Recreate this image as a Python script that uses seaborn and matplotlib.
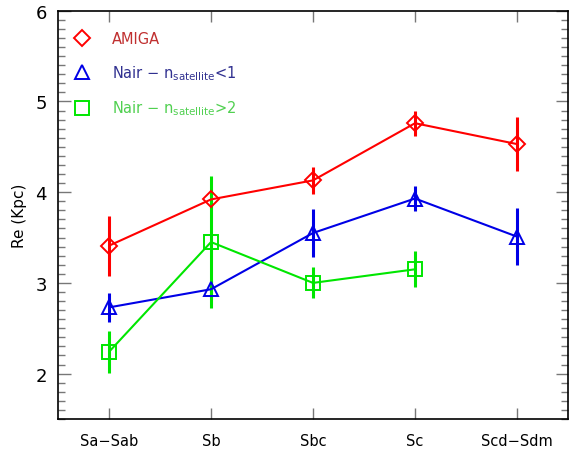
import matplotlib
matplotlib.use("Agg")
import matplotlib.pyplot as plt
import seaborn as sns
import numpy as np
import pandas as pd
from matplotlib.ticker import MultipleLocator

categories = ["Sa\u2212Sab", "Sb", "Sbc", "Sc", "Scd\u2212Sdm"]

amiga_re = [3.41, 3.92, 4.13, 4.76, 4.53]
amiga_err = [0.33, 0.10, 0.15, 0.14, 0.30]

nair_low_re = [2.73, 2.93, 3.55, 3.93, 3.51]
nair_low_err = [0.16, 0.10, 0.26, 0.14, 0.31]

nair_high_cats = ["Sa\u2212Sab", "Sb", "Sbc", "Sc"]
nair_high_re = [2.24, 3.45, 3.00, 3.15]
nair_high_err = [0.23, 0.73, 0.17, 0.20]

labels = ["AMIGA",
          r"Nair $-$ n$_{\mathrm{satellite}}$<1",
          r"Nair $-$ n$_{\mathrm{satellite}}$>2"]
colors = ["#ff0000", "#0000e6", "#00e600"]
text_colors = ["#c03030", "#303090", "#50d050"]
markers = ["D", "^", "s"]
msizes = [8, 10, 9.5]

sns.set_style("ticks")
plt.rcParams["font.family"] = ["DejaVu Sans"]
plt.rcParams["mathtext.default"] = "regular"

fig = plt.figure(figsize=(5.77, 4.52), dpi=100)
ax = fig.add_axes([58/577, 1 - 420/452, (568-58)/577, (420-11.7)/452])

series = [
    (categories, amiga_re, amiga_err),
    (categories, nair_low_re, nair_low_err),
    (nair_high_cats, nair_high_re, nair_high_err),
]

xpos = {c: i for i, c in enumerate(categories)}
handles = []
for (cats, vals, errs), col, mk, ms, lab in zip(series, colors, markers, msizes, labels):
    df = pd.DataFrame({"x": [xpos[c] for c in cats], "y": vals, "e": errs})
    ax.errorbar(df["x"], df["y"], yerr=df["e"], fmt="none", ecolor=col,
                elinewidth=2.2, capsize=0, zorder=2)
    sns.lineplot(data=df, x="x", y="y", ax=ax, color=col, linewidth=1.5,
                 marker=mk, markersize=ms, markerfacecolor="none",
                 markeredgecolor=col, markeredgewidth=1.4, zorder=3,
                 legend=False, sort=False)
    h, = ax.plot([], [], linestyle="none", marker=mk, markersize=ms,
                 markerfacecolor="none", markeredgecolor=col, markeredgewidth=1.4)
    handles.append(h)

leg = ax.legend(handles, labels, loc="upper left", frameon=False,
                handlelength=0.8, handletextpad=1.6, labelspacing=1.15,
                borderaxespad=0.6, fontsize=10.5, bbox_to_anchor=(0.008, 0.985))
for t, c in zip(leg.get_texts(), text_colors):
    t.set_color(c)

ax.set_xlim(-0.5, 4.5)
ax.set_ylim(1.5, 6.0)
ax.set_xticks(range(len(categories)))
ax.set_xticklabels(categories)
ax.yaxis.set_major_locator(MultipleLocator(1))
ax.yaxis.set_minor_locator(MultipleLocator(0.1))
ax.set_yticks([2, 3, 4, 5, 6])
ax.set_xlabel("")
ax.set_ylabel("Re (Kpc)", fontsize=11, labelpad=6, color="black")

ax.tick_params(axis="both", which="both", direction="in", top=True, right=True,
               color="#777777", labelcolor="black")
ax.tick_params(axis="y", which="major", length=9, width=1, labelsize=13, pad=8)
ax.tick_params(axis="y", which="minor", length=5, width=1)
ax.tick_params(axis="x", which="major", length=8, width=1, labelsize=10.5, pad=10)
ax.tick_params(axis="x", which="minor", bottom=False, top=False)
for s in ax.spines.values():
    s.set_linewidth(1.2)
    s.set_color("black")

fig.savefig("out.png", dpi=100)
